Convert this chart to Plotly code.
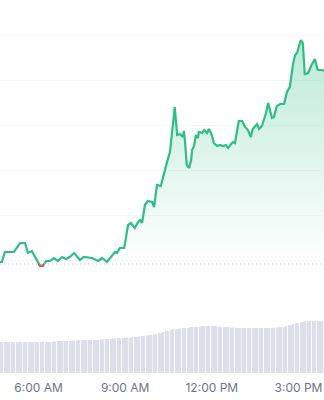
import numpy as np
import pandas as pd
import plotly.graph_objects as go

DAY = "2024-03-05"

# price (in grid-step units)
price_times = ["04:40","04:44","04:50","05:09","05:22","05:32","05:38","05:46","05:53","05:57",
               "06:03","06:09","06:16","06:24","06:32","06:40","06:49","06:57","07:05","07:14",
               "07:26","07:34","07:51","08:04","08:12","08:22","08:33","08:39","08:43","08:49",
               "08:58","09:06","09:12","09:20","09:27","09:31","09:35","09:41","09:47","09:56",
               "10:00","10:06","10:14","10:21","10:27","10:33","10:37","10:43","10:48","10:54",
               "11:00","11:02","11:04","11:08","11:13","11:17","11:19","11:23","11:27","11:31",
               "11:33","11:40","11:44","11:50","11:54","12:00","12:04","12:11","12:17","12:23",
               "12:29","12:34","12:40","12:44","12:48","12:52","12:56","13:03","13:09","13:15",
               "13:21","13:25","13:34","13:38","13:44","13:52","13:57","14:05","14:09","14:15",
               "14:22","14:30","14:36","14:42","14:49","14:53","14:57","15:01","15:05","15:09",
               "15:13","15:20","15:26","15:34","15:40","15:47","15:53","15:58"]
price_values = [0.956,0.956,1.178,1.178,1.378,1.378,1.156,1.200,1.067,0.978,
                0.870,0.870,0.978,0.978,1.044,0.978,1.067,1.022,1.067,1.156,
                1.000,1.067,1.044,0.978,1.044,0.956,1.111,1.178,1.156,1.267,
                1.267,1.778,1.822,1.711,1.844,1.889,1.822,2.222,2.311,2.289,
                2.178,2.667,2.644,2.956,3.178,3.400,3.822,4.400,3.778,3.800,
                3.733,3.867,3.667,3.111,3.044,3.222,3.444,3.533,3.778,3.711,
                3.844,3.822,3.889,3.822,3.911,3.778,3.600,3.533,3.556,3.533,
                3.556,3.489,3.578,3.622,3.600,3.889,4.089,4.089,3.956,3.889,
                3.733,3.911,4.022,3.911,3.978,4.244,4.489,4.156,4.178,4.422,
                4.467,4.467,4.733,4.844,5.378,5.556,5.600,5.756,5.889,5.822,
                5.133,5.156,5.311,5.467,5.222,5.222,5.200,5.200]
open_price = 0.911

# volume bars, one per 5 minutes from 04:40
volume_start = "04:40"
volume_values = [3.1,3.1,3.1,3.1,
                 3.1,3.1,3.1,3.1,3.1,3.1,3.1,3.1,3.1,3.1,3.1,3.1,
                 3.1,3.1,3.1,3.1,3.1,3.1,3.15,3.15,3.2,3.2,3.2,3.2,
                 3.2,3.2,3.25,3.25,3.25,3.3,3.3,3.3,3.3,3.3,3.3,3.3,
                 3.3,3.3,3.35,3.35,3.4,3.4,3.4,3.45,3.45,3.5,3.5,3.5,
                 3.5,3.55,3.55,3.6,3.6,3.6,3.65,3.7,3.7,3.75,3.8,3.8,
                 3.9,3.9,4.0,4.0,4.1,4.2,4.2,4.3,4.4,4.4,4.4,4.45,
                 4.5,4.5,4.5,4.6,4.6,4.6,4.6,4.65,4.7,4.7,4.7,4.7,
                 4.7,4.7,4.7,4.65,4.6,4.6,4.6,4.6,4.55,4.55,4.5,4.5,
                 4.5,4.5,4.5,4.5,4.5,4.5,4.5,4.5,4.5,4.5,4.5,4.5,
                 4.5,4.5,4.55,4.55,4.6,4.6,4.6,4.7,4.8,4.8,4.9,5.0,
                 5.0,5.1,5.1,5.2,5.2,5.2,5.2,5.2,5.2,5.2,5.2,5.2]

tick_format = "%-I:%M %p"
x_range = [DAY + " 04:40", DAY + " 15:53"]

GREEN = "#2ebd85"
RED = "#e15361"

t = pd.to_datetime([DAY + " " + s for s in price_times])
p = np.array(price_values)
tn = t.astype("int64").to_numpy().astype(float)

# red segments where price is below the open price
rx, ry = [], []
for i in range(len(p) - 1):
    a, b = p[i] - open_price, p[i + 1] - open_price
    if a < 0 or b < 0:
        seg = []
        if a < 0:
            seg.append((tn[i], p[i]))
        else:
            f = a / (a - b)
            seg.append((tn[i] + f * (tn[i + 1] - tn[i]), open_price))
        if b < 0:
            seg.append((tn[i + 1], p[i + 1]))
        else:
            f = a / (a - b)
            seg.append((tn[i] + f * (tn[i + 1] - tn[i]), open_price))
        for xx, yy in seg:
            rx.append(pd.to_datetime(int(xx)))
            ry.append(yy)
        rx.append(None)
        ry.append(None)

vt = pd.date_range(DAY + " " + volume_start, periods=len(volume_values), freq="5min")

fig = go.Figure()
fig.add_trace(go.Bar(x=vt, y=volume_values, yaxis="y2", marker=dict(color="#dcdfea", line=dict(width=0)),
                     hoverinfo="skip"))
fig.add_trace(go.Scatter(x=[t[0], t[-1]], y=[open_price, open_price], mode="lines",
                         line=dict(width=0, color="rgba(0,0,0,0)"), hoverinfo="skip"))
fig.add_trace(go.Scatter(x=t, y=p, mode="lines", line=dict(color=GREEN, width=2.2),
                         fill="tonexty",
                         fillgradient=dict(type="vertical", start=open_price, stop=float(p.max()),
                                           colorscale=[[0, "rgba(46,189,133,0.0)"],
                                                       [1, "rgba(46,189,133,0.32)"]]),
                         hoverinfo="skip"))
fig.add_trace(go.Scatter(x=rx, y=ry, mode="lines", line=dict(color=RED, width=2.2), hoverinfo="skip"))

H = 374
price_bottom = 305
dom = (H - price_bottom) / H
fig.update_layout(
    width=324, height=400,
    margin=dict(l=0, r=0, t=0, b=400 - H),
    paper_bgcolor="white", plot_bgcolor="white",
    showlegend=False, bargap=0.4,
    xaxis=dict(type="date", range=x_range, anchor="y2", showgrid=False, zeroline=False,
               showline=False, ticks="", tickformat=tick_format, dtick=3 * 3600 * 1000,
               tick0=DAY + " 00:00", ticklabelstandoff=5,
               tickfont=dict(family="Inter", size=12, color="#6f7482")),
    yaxis=dict(domain=[dom, 1], range=[0, price_bottom / 45], dtick=1, tick0=0,
               showgrid=True, gridcolor="#f6f7f8", gridwidth=1, zeroline=False,
               showticklabels=False, ticks=""),
    yaxis2=dict(domain=[0, dom], range=[-0.1, 6.8], showgrid=False, zeroline=False,
                showticklabels=False, ticks=""),
    shapes=[dict(type="line", xref="paper", x0=0, x1=1, yref="y", y0=open_price, y1=open_price,
                 line=dict(color="#c4c7ce", width=1, dash="1px,3px"))],
)

fig.write_html("out.html", config={"displayModeBar": False})
